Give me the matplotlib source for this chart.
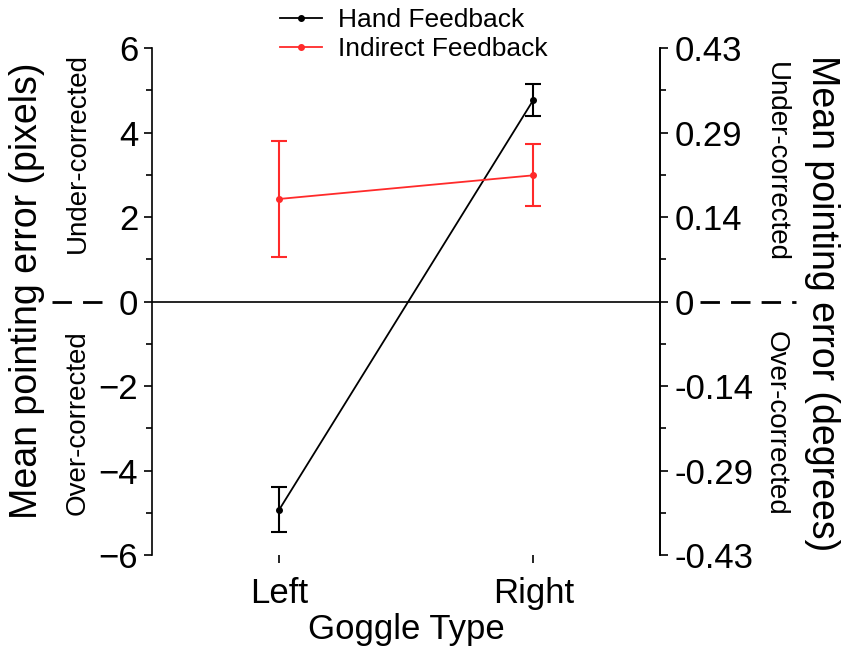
import matplotlib.pyplot as plt
from matplotlib.lines import Line2D
from matplotlib.ticker import MultipleLocator

plt.rcParams['font.family'] = ['Liberation Sans', 'DejaVu Sans']

# mean pointing error (pixels) and standard errors
goggles = ['Left', 'Right']
hand_mean = [-4.93, 4.77]
hand_err = [0.53, 0.38]
indirect_mean = [2.43, 2.99]
indirect_err = [1.38, 0.73]

# degree labels for the right-hand axis
pixel_ticks = [-6, -4, -2, 0, 2, 4, 6]
degree_labels = ['-0.43', '-0.29', '-0.14', '0', '0.14', '0.29', '0.43']

RED = '#ff2a2a'

fig = plt.figure(figsize=(8.46, 6.6), dpi=100)
ax = fig.add_axes([0.1797, 0.159, 0.6008, 0.768])

xs = range(len(goggles))
ax.axhline(0, color='black', lw=1.2, zorder=1)
ax.errorbar(xs, hand_mean, yerr=hand_err, color='black', marker='o', ms=4,
            lw=1.3, elinewidth=1.5, capsize=6, capthick=1.5)
ax.errorbar(xs, indirect_mean, yerr=indirect_err, color=RED, marker='o', ms=4,
            lw=1.3, elinewidth=1.5, capsize=6, capthick=1.5)

ax.set_xlim(-0.5, 1.5)
ax.set_ylim(-6, 6)
ax.set_xticks(list(xs))
ax.set_xticklabels(goggles)
ax.set_yticks(pixel_ticks)
ax.yaxis.set_minor_locator(MultipleLocator(1))
ax.tick_params(axis='y', which='major', direction='out', length=6, width=1.2, labelsize=25, pad=4)
ax.tick_params(axis='y', which='minor', direction='out', length=4, width=1.2)
ax.tick_params(axis='x', direction='out', length=6, width=1.2, labelsize=25, pad=10)
for s in ['top', 'bottom']:
    ax.spines[s].set_visible(False)
for s in ['left', 'right']:
    ax.spines[s].set_linewidth(1.2)
ax.set_xlabel('Goggle Type', fontsize=25, labelpad=2)

ax2 = ax.twinx()
ax2.set_ylim(-6, 6)
ax2.set_yticks(pixel_ticks)
ax2.set_yticklabels(degree_labels)
ax2.yaxis.set_minor_locator(MultipleLocator(1))
ax2.tick_params(axis='y', which='major', direction='out', length=6, width=1.2, labelsize=25, pad=4)
ax2.tick_params(axis='y', which='minor', direction='out', length=4, width=1.2)
for s in ['top', 'bottom', 'left']:
    ax2.spines[s].set_visible(False)
ax2.spines['right'].set_linewidth(1.2)

# axis titles and direction labels
fig.text(0.032, 0.56, 'Mean pointing error (pixels)', rotation=90, fontsize=27,
         ha='center', va='center')
fig.text(0.972, 0.54, 'Mean pointing error (degrees)', rotation=270, fontsize=27,
         ha='center', va='center')
fig.text(0.092, 0.768, 'Under-corrected', rotation=90, fontsize=20, ha='center', va='center')
fig.text(0.092, 0.359, 'Over-corrected', rotation=90, fontsize=20, ha='center', va='center')
fig.text(0.917, 0.755, 'Under-corrected', rotation=270, fontsize=20, ha='center', va='center')
fig.text(0.917, 0.359, 'Over-corrected', rotation=270, fontsize=20, ha='center', va='center')

# dashed guides out to the zero labels
y0 = 1 - 301.5 / 660
fig.add_artist(Line2D([52 / 846, 112 / 846], [y0, y0], color='black', lw=2,
                      dashes=(7, 4)))
fig.add_artist(Line2D([700 / 846, 796 / 846], [y0, y0], color='black', lw=2,
                      dashes=(7, 4)))

handles = [Line2D([], [], color='black', marker='o', ms=4, lw=1.3),
           Line2D([], [], color=RED, marker='o', ms=4, lw=1.3)]
fig.legend(handles, ['Hand Feedback', 'Indirect Feedback'], loc='upper left',
           bbox_to_anchor=(0.331, 0.988), frameon=False, borderpad=0, borderaxespad=0,
           fontsize=19, handlelength=1.6, handletextpad=0.6, labelspacing=0.2)

fig.savefig('out.png', dpi=100)
